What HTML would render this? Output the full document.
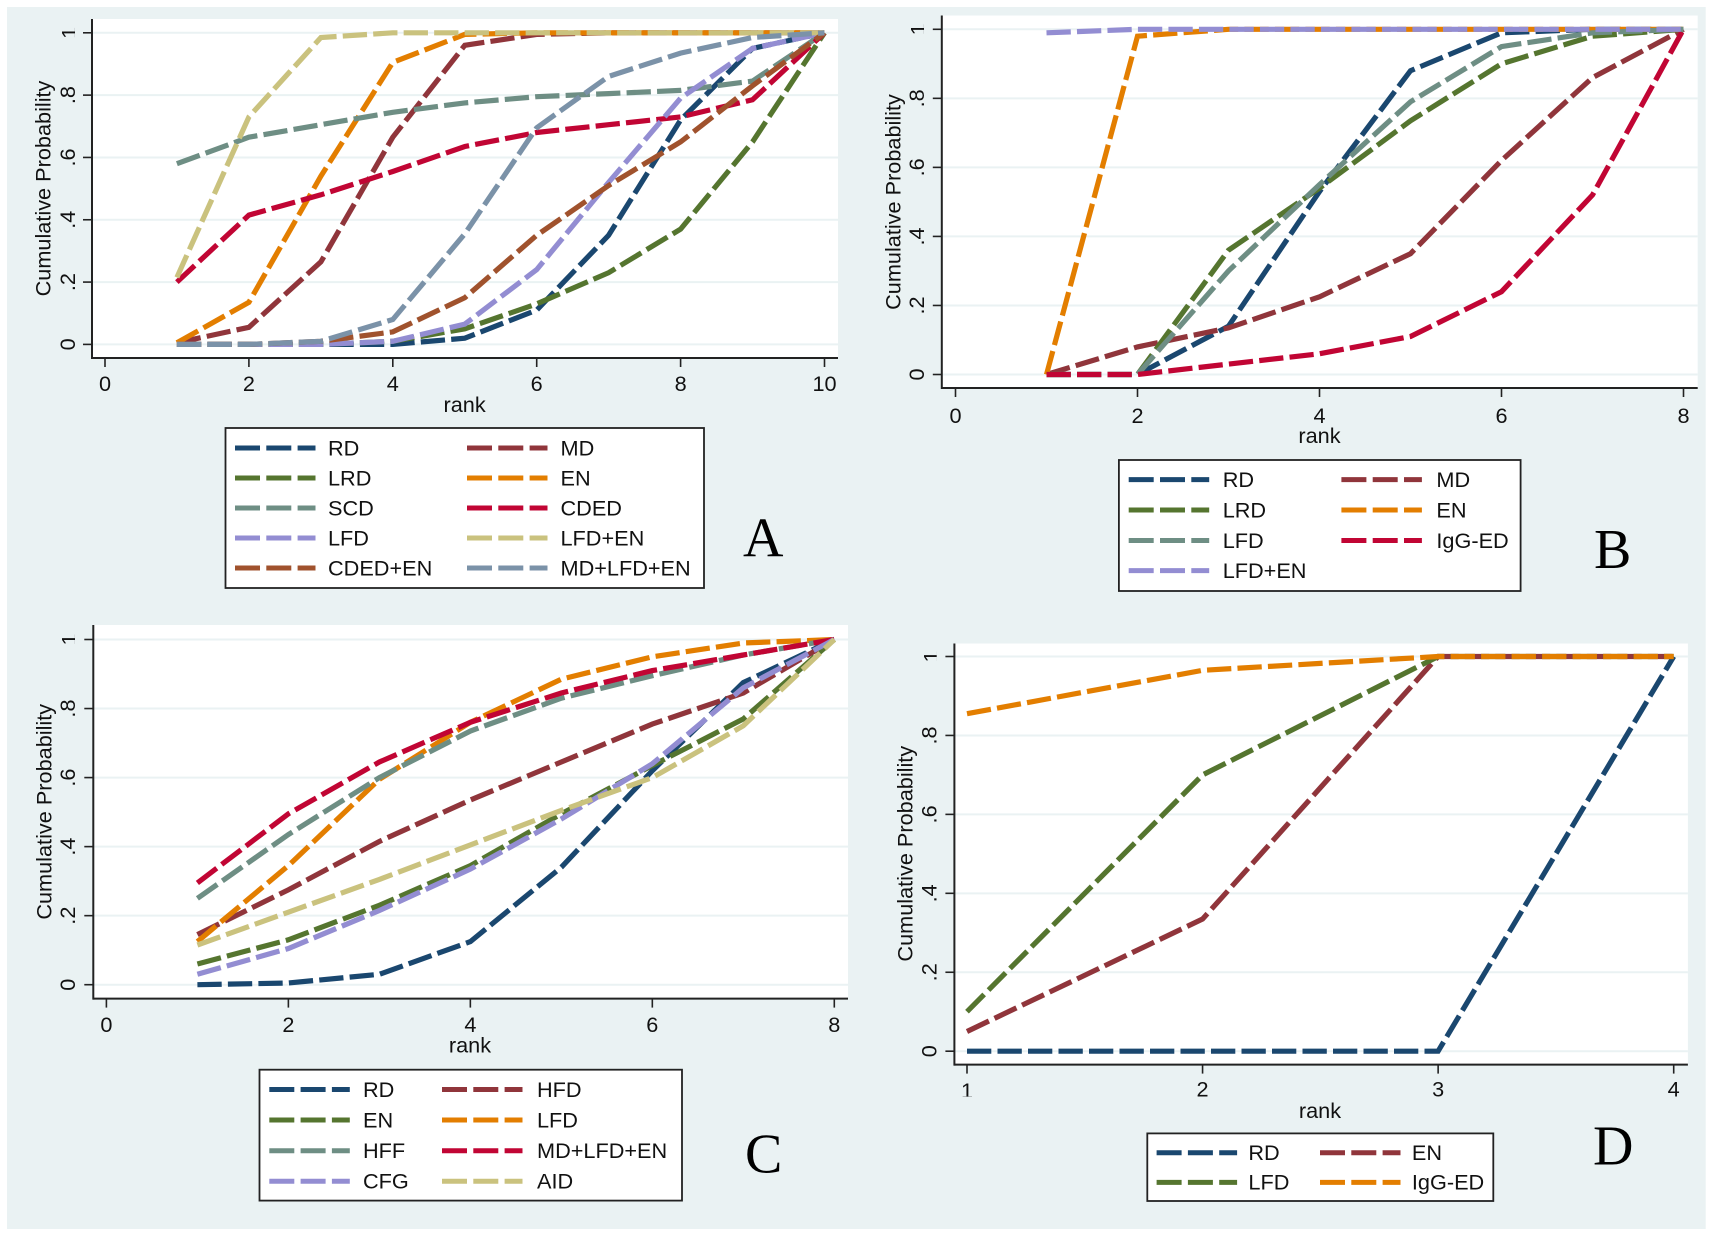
<!DOCTYPE html>
<html lang="en">
<head>
<meta charset="utf-8">
<title>Cumulative Probability Rank Plots</title>
<style>
html,body{margin:0;padding:0;background:#fff;width:1713px;height:1237px;overflow:hidden}
svg{display:block}
text{font-family:"Liberation Sans",sans-serif;fill:#111;font-size:21.7px}
.letter{font-family:"Liberation Serif",serif;font-size:56px;fill:#000}
</style>
</head>
<body>
<svg id="figure" xmlns="http://www.w3.org/2000/svg" width="1713" height="1237" viewBox="0 0 1713 1237">
<rect x="7" y="7" width="1698.7" height="1222" fill="#eaf2f3"/>
</svg>
<script>
// Shared axis labels
const yTickValues = [0, 0.2, 0.4, 0.6, 0.8, 1];
const yTickLabels = ['0', '.2', '.4', '.6', '.8', '1'];
const yAxisTitle = 'Cumulative Probability';
const xAxisTitle = 'rank';

// Panel A
const ranksA = [1, 2, 3, 4, 5, 6, 7, 8, 9, 10];
const xTicksA = [0, 2, 4, 6, 8, 10];
const namesA = ['RD', 'MD', 'LRD', 'EN', 'SCD', 'CDED', 'LFD', 'LFD+EN', 'CDED+EN', 'MD+LFD+EN'];
const aRD = [0, 0, 0, 0, 0.02, 0.11, 0.35, 0.72, 0.95, 1];
const aMD = [0.005, 0.055, 0.265, 0.665, 0.96, 0.995, 1, 1, 1, 1];
const aLRD = [0, 0, 0, 0.01, 0.05, 0.13, 0.23, 0.37, 0.65, 1];
const aEN = [0.005, 0.135, 0.54, 0.905, 0.995, 1, 1, 1, 1, 1];
const aSCD = [0.58, 0.665, 0.705, 0.745, 0.775, 0.795, 0.805, 0.815, 0.845, 1];
const aCDED = [0.2, 0.415, 0.48, 0.555, 0.635, 0.68, 0.705, 0.73, 0.785, 1];
const aLFD = [0, 0, 0, 0.01, 0.065, 0.24, 0.52, 0.79, 0.95, 1];
const aLFDEN = [0.215, 0.73, 0.985, 1, 1, 1, 1, 1, 1, 1];
const aCDEDEN = [0, 0, 0.01, 0.04, 0.15, 0.35, 0.51, 0.65, 0.83, 1];
const aMDLFDEN = [0, 0, 0.01, 0.08, 0.355, 0.695, 0.86, 0.935, 0.985, 1];
const valuesA = [aRD, aMD, aLRD, aEN, aSCD, aCDED, aLFD, aLFDEN, aCDEDEN, aMDLFDEN];

// Panel B
const ranksB = [1, 2, 3, 4, 5, 6, 7, 8];
const xTicksB = [0, 2, 4, 6, 8];
const namesB = ['RD', 'MD', 'LRD', 'EN', 'LFD', 'IgG-ED', 'LFD+EN'];
const bRD = [0, 0, 0.14, 0.53, 0.88, 0.99, 1, 1];
const bMD = [0, 0.08, 0.135, 0.225, 0.35, 0.62, 0.86, 1];
const bLRD = [0, 0, 0.36, 0.54, 0.735, 0.9, 0.98, 1];
const bEN = [0, 0.98, 1, 1, 1, 1, 1, 1];
const bLFD = [0, 0, 0.3, 0.55, 0.79, 0.95, 0.99, 1];
const bIgG = [0, 0, 0.03, 0.06, 0.11, 0.24, 0.52, 1];
const bLFDEN = [0.99, 1, 1, 1, 1, 1, 1, 1];
const valuesB = [bRD, bMD, bLRD, bEN, bLFD, bIgG, bLFDEN];

// Panel C
const ranksC = [1, 2, 3, 4, 5, 6, 7, 8];
const xTicksC = [0, 2, 4, 6, 8];
const namesC = ['RD', 'HFD', 'EN', 'LFD', 'HFF', 'MD+LFD+EN', 'CFG', 'AID'];
const cRD = [0, 0.005, 0.03, 0.125, 0.34, 0.62, 0.875, 1];
const cHFD = [0.145, 0.275, 0.415, 0.535, 0.645, 0.755, 0.845, 1];
const cEN = [0.06, 0.13, 0.23, 0.345, 0.495, 0.635, 0.77, 1];
const cLFD = [0.125, 0.345, 0.595, 0.76, 0.885, 0.95, 0.99, 1];
const cHFF = [0.25, 0.435, 0.6, 0.735, 0.83, 0.895, 0.955, 1];
const cMDLFDEN = [0.295, 0.495, 0.645, 0.76, 0.845, 0.91, 0.955, 1];
const cCFG = [0.03, 0.105, 0.215, 0.335, 0.48, 0.64, 0.86, 1];
const cAID = [0.115, 0.21, 0.305, 0.405, 0.505, 0.6, 0.75, 1];
const valuesC = [cRD, cHFD, cEN, cLFD, cHFF, cMDLFDEN, cCFG, cAID];

// Panel D
const ranksD = [1, 2, 3, 4];
const xTicksD = [1, 2, 3, 4];
const namesD = ['RD', 'EN', 'LFD', 'IgG-ED'];
const dRD = [0, 0, 0, 1];
const dEN = [0.05, 0.335, 1, 1];
const dLFD = [0.1, 0.7, 1, 1];
const dIgG = [0.855, 0.965, 1, 1];
const valuesD = [dRD, dEN, dLFD, dIgG];

const colorsA = ['#1a476f', '#90353b', '#55752f', '#e37e00', '#6e8e84', '#c10534', '#938dd2', '#cac27e', '#a0522d', '#7b92a8'];
const colorsB = ['#1a476f', '#90353b', '#55752f', '#e37e00', '#6e8e84', '#c10534', '#938dd2'];

const NS = 'http://www.w3.org/2000/svg';
const root = document.getElementById('figure');

function make(parent, tag, attrs, txt) {
  const el = document.createElementNS(NS, tag);
  for (const k in attrs) el.setAttribute(k, attrs[k]);
  if (txt !== undefined) el.textContent = txt;
  parent.appendChild(el);
  return el;
}

// Clips the foot bar off Liberation's "1" so the digit reads like the reference's.
function footlessHolder(parent, id, x, y, w, h) {
  const clip = make(parent, 'clipPath', { id: id });
  make(clip, 'rect', { x: x, y: y, width: w, height: h });
  return make(parent, 'g', { 'clip-path': 'url(#' + id + ')' });
}

function drawPanel(p) {
  const g = make(root, 'g', {});
  
  

  const xs = v => p.x0 + (v - p.xa) * (p.x1 - p.x0) / (p.xb - p.xa);
  const ys = v => p.y0 + v * (p.y1 - p.y0);

  const plot = make(g, 'rect', { x: p.left, y: p.top, width: p.right - p.left, height: p.bottom - p.top, fill: '#fff' });
  
  

  yTickValues.forEach((v, i) => {
    const grid = make(g, 'line', { x1: p.left, x2: p.right, y1: ys(v), y2: ys(v), stroke: '#eaf2f3', 'stroke-width': 2 });
    
    
    const tick = make(g, 'line', { x1: p.left - 9, x2: p.left, y1: ys(v), y2: ys(v), stroke: '#222', 'stroke-width': 1.6 });
    
    
    const isOne = yTickLabels[i] === '1';
    const holder = isOne ? footlessHolder(g, 'clip-y1-' + p.id, p.yLabelX - 30, ys(v) - 15, 30, 30) : g;
    const lx = isOne ? p.yLabelX + 1.6 : p.yLabelX;
    const label = make(holder, 'text', { x: lx, y: ys(v), 'text-anchor': 'middle', transform: 'rotate(-90 ' + lx + ' ' + ys(v) + ')' }, yTickLabels[i]);
    
    
  });

  p.xTicks.forEach(v => {
    const tick = make(g, 'line', { x1: xs(v), x2: xs(v), y1: p.bottom, y2: p.bottom + 9, stroke: '#222', 'stroke-width': 1.6 });
    
    
    const isOne = String(v) === '1';
    const holder = isOne ? footlessHolder(g, 'clip-x1-' + p.id, xs(v) - 15, p.xLabelY - 30, 30, 30) : g;
    const ly = isOne ? p.xLabelY + 1.6 : p.xLabelY;
    const label = make(holder, 'text', { x: xs(v), y: ly, 'text-anchor': 'middle' }, String(v));
    
    
  });

  const yAxis = make(g, 'line', { x1: p.left, x2: p.left, y1: p.top, y2: p.bottom + 1, stroke: '#222', 'stroke-width': 2 });
  
  
  const xAxis = make(g, 'line', { x1: p.left, x2: p.right, y1: p.bottom, y2: p.bottom, stroke: '#222', 'stroke-width': 2 });
  
  

  const yt = make(g, 'text', { x: p.yTitleX, y: p.yTitleY, 'text-anchor': 'middle', transform: 'rotate(-90 ' + p.yTitleX + ' ' + p.yTitleY + ')' }, yAxisTitle);
  
  
  const xt = make(g, 'text', { x: p.xTitleX, y: p.xTitleY, 'text-anchor': 'middle' }, xAxisTitle);
  
  

  p.values.forEach((vals, i) => {
    const pts = vals.map((v, j) => xs(p.ranks[j]).toFixed(1) + ',' + ys(v).toFixed(1)).join(' ');
    const line = make(g, 'polyline', { points: pts, fill: 'none', stroke: p.colors[i], 'stroke-width': 5.2, 'stroke-dasharray': '24.3 6.2', 'stroke-linejoin': 'miter' });
    
    
  });

  const legend = make(g, 'g', {});
  
  
  const box = make(legend, 'rect', { x: p.legX, y: p.legY, width: p.legW, height: p.legH, fill: '#fff', stroke: '#222', 'stroke-width': 1.8 });
  
  
  const rows = p.legRows.length;
  p.names.forEach((name, i) => {
    const col = i % 2;
    const row = (i - col) / 2;
    if (row >= rows) return;
    const y = p.legRows[row];
    const hx = p.legHandle[col];
    const handle = make(legend, 'line', { x1: hx, x2: hx + 80.5, y1: y, y2: y, stroke: p.colors[i], 'stroke-width': 5, 'stroke-dasharray': '25 6.3' });
    
    
    const t = make(legend, 'text', { x: p.legText[col], y: y + 7.3 }, name);
    
    
  });

  const letter = make(g, 'text', { x: p.letterX, y: p.letterY, class: 'letter' }, p.id);
  
  
}

drawPanel({ id: 'A', ranks: ranksA, xTicks: xTicksA, names: namesA, values: valuesA, colors: colorsA,
  left: 92, right: 838, top: 19, bottom: 358, xa: 0, xb: 10, x0: 105, x1: 824.5, y0: 344.4, y1: 32.8,
  yLabelX: 75, xLabelY: 391, yTitleX: 50.5, yTitleY: 188.5, xTitleX: 464.6, xTitleY: 412,
  legX: 225.5, legY: 428, legW: 478.5, legH: 160, legRows: [448, 478, 508, 538, 568], legHandle: [235, 467], legText: [328, 560.5],
  letterX: 743, letterY: 556.5 });

drawPanel({ id: 'B', ranks: ranksB, xTicks: xTicksB, names: namesB, values: valuesB, colors: colorsB,
  left: 941.8, right: 1697.7, top: 15.5, bottom: 388, xa: 0, xb: 8, x0: 955.5, x1: 1683.5, y0: 374.5, y1: 29.3,
  yLabelX: 924, xLabelY: 423, yTitleX: 900.5, yTitleY: 202, xTitleX: 1319.5, xTitleY: 443,
  legX: 1118.9, legY: 460, legW: 401.7, legH: 131, legRows: [479.6, 510, 540.5, 570.6], legHandle: [1128.7, 1341.4], legText: [1222.7, 1436.4],
  letterX: 1594, letterY: 568 });

drawPanel({ id: 'C', ranks: ranksC, xTicks: xTicksC, names: namesC, values: valuesC, colors: colorsA,
  left: 93.3, right: 848, top: 625, bottom: 998.6, xa: 0, xb: 8, x0: 106.4, x1: 834.3, y0: 984.7, y1: 639.5,
  yLabelX: 75, xLabelY: 1032, yTitleX: 51.5, yTitleY: 811.8, xTitleX: 470, xTitleY: 1052.7,
  legX: 259.5, legY: 1069.7, legW: 422.5, legH: 130.9, legRows: [1089.5, 1120, 1150.8, 1181.3], legHandle: [269.3, 442], legText: [363, 537],
  letterX: 745, letterY: 1172.5 });

drawPanel({ id: 'D', ranks: ranksD, xTicks: xTicksD, names: namesD, values: valuesD, colors: ['#1a476f', '#90353b', '#55752f', '#e37e00'],
  left: 954.4, right: 1687.9, top: 643.5, bottom: 1064.6, xa: 1, xb: 4, x0: 967, x1: 1673.7, y0: 1051.2, y1: 656.5,
  yLabelX: 936.7, xLabelY: 1096.6, yTitleX: 912.7, yTitleY: 853.7, xTitleX: 1320, xTitleY: 1118,
  legX: 1147.3, legY: 1133.4, legW: 346, legH: 67.6, legRows: [1152.8, 1182.4], legHandle: [1156.6, 1320], legText: [1248.4, 1411.9],
  letterX: 1593, letterY: 1164.6 });
</script>
</body>
</html>
